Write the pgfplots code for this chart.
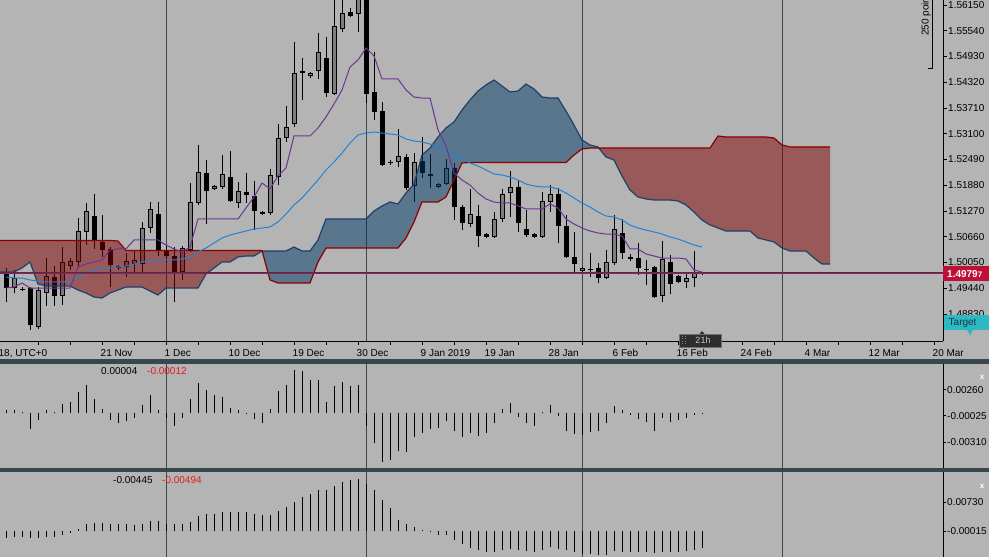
\documentclass[border=0pt]{standalone}
\usepackage{pgfplots}
\pgfplotsset{compat=1.18}
\usepackage{pgfplotstable}
\usepgfplotslibrary{fillbetween}
\usepackage{fontspec}
\setmainfont{Liberation Sans}
\definecolor{bg}{RGB}{180,180,180}
\definecolor{sepc}{RGB}{55,71,79}
\definecolor{bullc}{RGB}{125,125,125}
\definecolor{cloudR}{RGB}{128,0,0}
\definecolor{cloudB}{RGB}{0,57,101}
\definecolor{spanBc}{RGB}{139,0,0}
\definecolor{spanAc}{RGB}{30,65,105}
\definecolor{tenkanc}{RGB}{105,55,145}
\definecolor{kijunc}{RGB}{35,130,215}
\definecolor{crim}{RGB}{190,15,55}
\definecolor{tealc}{RGB}{45,185,195}
\definecolor{redtxt}{RGB}{230,25,25}
\definecolor{targettxt}{RGB}{25,55,65}
\definecolor{boxdark}{RGB}{45,45,45}
\definecolor{boxedge}{RGB}{110,110,110}
\definecolor{boxtxt}{RGB}{200,200,200}
\pagecolor{bg}

\pgfplotstableread{
i o h l c t k
0 1.49824 1.49918 1.49113 1.49444 1.49444 1.49705
1 1.49444 1.49871 1.49326 1.49681 1.49468 1.49681
2 1.49421 1.49468 1.49373 1.49397 1.49563 1.49681
3 1.49444 1.49468 1.48449 1.48567 1.49444 1.49634
4 1.48520 1.49468 1.48473 1.49397 1.49444 1.49610
5 1.49326 1.50155 1.49018 1.49729 1.49444 1.49587
6 1.49705 1.49966 1.49018 1.49255 1.49444 1.49587
7 1.49255 1.50416 1.49041 1.50061 1.49444 1.49587
8 1.49966 1.50155 1.49871 1.50084 1.49444 1.49610
9 1.50061 1.51103 1.49942 1.50795 1.49942 1.49705
10 1.50772 1.51459 1.50463 1.51269 1.50013 1.49800
11 1.51151 1.51672 1.50369 1.50582 1.50061 1.49871
12 1.50535 1.51174 1.50179 1.50345 1.50108 1.49918
13 1.50369 1.50416 1.49468 1.49989 1.50345 1.49918
14 1.49966 1.49989 1.49871 1.49918 1.50369 1.49942
15 1.49942 1.50274 1.49705 1.50084 1.50369 1.49966
16 1.50013 1.50345 1.49800 1.50108 1.50582 1.50013
17 1.50013 1.51009 1.49800 1.50866 1.50582 1.50061
18 1.50866 1.51483 1.50748 1.51317 1.50582 1.50084
19 1.51198 1.51483 1.50203 1.50345 1.50582 1.50108
20 1.50321 1.50463 1.50061 1.50203 1.50463 1.50108
21 1.50203 1.50416 1.49113 1.49800 1.50369 1.50108
22 1.49824 1.50440 1.49634 1.50392 1.50298 1.50132
23 1.50345 1.51933 1.50298 1.51483 1.50416 1.50179
24 1.51459 1.52833 1.51411 1.52194 1.51080 1.50298
25 1.52170 1.52478 1.50961 1.51743 1.51080 1.50392
26 1.51791 1.51885 1.51767 1.51862 1.51080 1.50511
27 1.51838 1.52596 1.51791 1.52146 1.51080 1.50629
28 1.52075 1.52691 1.51483 1.51506 1.51080 1.50700
29 1.51459 1.51957 1.51340 1.51743 1.51080 1.50748
30 1.51720 1.52170 1.51459 1.51648 1.51340 1.50795
31 1.51625 1.51980 1.50819 1.51269 1.51601 1.50843
32 1.51246 1.51269 1.51174 1.51198 1.51933 1.50866
33 1.51222 1.52265 1.51174 1.52122 1.51791 1.50890
34 1.52075 1.53331 1.51885 1.52999 1.52099 1.51009
35 1.52999 1.53758 1.52905 1.53260 1.52288 1.51198
36 1.53331 1.55275 1.53260 1.54540 1.53047 1.51411
37 1.54587 1.54895 1.53900 1.54540 1.53047 1.51577
38 1.54469 1.54564 1.54421 1.54540 1.53047 1.51791
39 1.54587 1.55488 1.54398 1.55038 1.53237 1.52004
40 1.54895 1.55393 1.53971 1.54066 1.53497 1.52241
41 1.54042 1.56400 1.54019 1.55654 1.53805 1.52431
42 1.55583 1.56270 1.55512 1.55962 1.54137 1.52644
43 1.55986 1.56080 1.55867 1.55891 1.54682 1.52881
44 1.55938 1.56500 1.55512 1.56341 1.54848 1.53071
45 1.56341 1.56500 1.53829 1.54042 1.55133 1.53118
46 1.54090 1.55038 1.53426 1.53616 1.54943 1.53142
47 1.53639 1.53853 1.52336 1.52359 1.54398 1.53118
48 1.52431 1.52478 1.52359 1.52407 1.54398 1.53094
49 1.52431 1.53213 1.52312 1.52573 1.54398 1.53071
50 1.52549 1.52620 1.51767 1.51814 1.54137 1.52976
51 1.51862 1.52644 1.51483 1.52431 1.53971 1.52928
52 1.52454 1.53023 1.52051 1.52170 1.53947 1.52905
53 1.52146 1.52620 1.51814 1.52099 1.53947 1.52857
54 1.51838 1.51933 1.51814 1.51909 1.53189 1.52786
55 1.51909 1.52502 1.51885 1.52288 1.52810 1.52715
56 1.52288 1.52407 1.51056 1.51364 1.52170 1.52620
57 1.51364 1.51411 1.50819 1.50985 1.52004 1.52525
58 1.50961 1.51791 1.50890 1.51198 1.51885 1.52407
59 1.51151 1.51411 1.50416 1.50677 1.51696 1.52336
60 1.50724 1.50748 1.50629 1.50653 1.51554 1.52241
61 1.50653 1.51246 1.50629 1.51080 1.51483 1.52146
62 1.51080 1.51791 1.51009 1.51672 1.51459 1.52122
63 1.51696 1.52217 1.51127 1.51838 1.51459 1.52075
64 1.51838 1.52004 1.50772 1.50985 1.51388 1.52004
65 1.50843 1.51293 1.50653 1.50700 1.51317 1.51909
66 1.50724 1.50748 1.50629 1.50653 1.51317 1.51862
67 1.50653 1.51720 1.50629 1.51506 1.51317 1.51838
68 1.51483 1.51885 1.51246 1.51672 1.51435 1.51838
69 1.51672 1.51814 1.50511 1.50914 1.51340 1.51791
70 1.50914 1.51174 1.50155 1.50179 1.51080 1.51696
71 1.50179 1.50772 1.49800 1.50013 1.50961 1.51577
72 1.49847 1.49942 1.49800 1.49918 1.50866 1.51459
73 1.49895 1.50274 1.49705 1.49871 1.50795 1.51364
74 1.49918 1.50037 1.49563 1.49681 1.50748 1.51246
75 1.49681 1.50345 1.49657 1.50061 1.50724 1.51151
76 1.50037 1.51174 1.49989 1.50843 1.50724 1.51127
77 1.50748 1.51080 1.50132 1.50274 1.50677 1.51056
78 1.50179 1.50250 1.50084 1.50132 1.50369 1.50937
79 1.50155 1.50511 1.49752 1.49918 1.50369 1.50866
80 1.49895 1.50108 1.49515 1.49871 1.50250 1.50819
81 1.49942 1.49966 1.49207 1.49231 1.50203 1.50772
82 1.49255 1.50558 1.49113 1.50132 1.50155 1.50724
83 1.50061 1.50227 1.49302 1.49539 1.50155 1.50653
84 1.49729 1.49752 1.49563 1.49587 1.50155 1.50606
85 1.49587 1.49824 1.49444 1.49681 1.50132 1.50535
86 1.49681 1.50321 1.49468 1.49800 1.49871 1.50463
87 1.49810 1.49824 1.49760 1.49797 1.49824 1.50416
}\candles

\pgfplotstableread{
i a b
-1 1.49824 1.50570
0 1.49824 1.50570
1 1.49824 1.50570
2 1.49918 1.50570
3 1.50061 1.50570
4 1.49539 1.50570
5 1.49492 1.50570
6 1.49492 1.50570
7 1.49492 1.50570
8 1.49492 1.50570
9 1.49397 1.50570
10 1.49326 1.50570
11 1.49231 1.50570
12 1.49207 1.50570
13 1.49326 1.50570
14 1.49397 1.50558
15 1.49468 1.50333
16 1.49468 1.50333
17 1.49468 1.50333
18 1.49373 1.50333
19 1.49279 1.50333
20 1.49444 1.50333
21 1.49444 1.50333
22 1.49444 1.50333
23 1.49444 1.50333
24 1.49444 1.50333
25 1.49776 1.50333
26 1.49918 1.50333
27 1.50061 1.50333
28 1.50061 1.50333
29 1.50179 1.50333
30 1.50203 1.50333
31 1.50203 1.50333
32 1.50321 1.50333
33 1.50321 1.49634
34 1.50321 1.49563
35 1.50321 1.49563
36 1.50416 1.49563
37 1.50321 1.49563
38 1.50321 1.49563
39 1.50582 1.50061
40 1.51080 1.50392
41 1.51080 1.50392
42 1.51080 1.50392
43 1.51080 1.50392
44 1.51080 1.50392
45 1.51080 1.50392
46 1.51269 1.50392
47 1.51388 1.50392
48 1.51483 1.50392
49 1.51435 1.50392
50 1.51696 1.50629
51 1.51909 1.51009
52 1.52596 1.51483
53 1.52762 1.51483
54 1.53023 1.51483
55 1.53237 1.51601
56 1.53379 1.52004
57 1.53663 1.52407
58 1.53900 1.52419
59 1.54113 1.52419
60 1.54256 1.52419
61 1.54374 1.52419
62 1.54232 1.52419
63 1.54090 1.52419
64 1.54113 1.52419
65 1.54279 1.52419
66 1.54161 1.52419
67 1.53971 1.52419
68 1.53947 1.52419
69 1.53947 1.52419
70 1.53639 1.52419
71 1.53307 1.52596
72 1.52952 1.52739
73 1.52834 1.52762
74 1.52786 1.52762
75 1.52549 1.52762
76 1.52478 1.52762
77 1.52099 1.52762
78 1.51767 1.52762
79 1.51601 1.52762
80 1.51554 1.52762
81 1.51530 1.52762
82 1.51530 1.52762
83 1.51530 1.52762
84 1.51506 1.52762
85 1.51411 1.52762
86 1.51246 1.52762
87 1.51056 1.52762
88 1.50937 1.52762
89 1.50866 1.53047
90 1.50795 1.53023
91 1.50795 1.53023
92 1.50795 1.53023
93 1.50795 1.53023
94 1.50629 1.53023
95 1.50582 1.53023
96 1.50535 1.52999
97 1.50392 1.52834
98 1.50321 1.52786
99 1.50321 1.52786
100 1.50321 1.52786
101 1.50155 1.52786
102 1.50013 1.52786
103 1.50013 1.52786
}\cloud

\pgfplotstableread{
i m s
0 0.00036 -0.00169
1 0.00036 -0.00152
2 0.00011 -0.00152
3 -0.00174 -0.00185
4 -0.00073 -0.00185
5 0.00036 -0.00152
6 0.00011 -0.00152
7 0.00102 -0.00101
8 0.00120 -0.00042
9 0.00229 0.00059
10 0.00309 0.00185
11 0.00163 0.00211
12 0.00047 0.00211
13 -0.00073 0.00185
14 -0.00109 0.00169
15 -0.00083 0.00169
16 -0.00054 0.00143
17 0.00091 0.00185
18 0.00200 0.00253
19 0.00036 0.00244
20 -0.00054 0.00185
21 -0.00134 0.00169
22 -0.00044 0.00169
23 0.00163 0.00228
24 0.00327 0.00371
25 0.00254 0.00422
26 0.00200 0.00438
27 0.00182 0.00481
28 0.00062 0.00481
29 0.00036 0.00481
30 0.00002 0.00481
31 -0.00065 0.00438
32 -0.00102 0.00396
33 0.00054 0.00413
34 0.00243 0.00506
35 0.00309 0.00607
36 0.00479 0.00733
37 0.00461 0.00860
38 0.00370 0.00944
39 0.00363 0.01045
40 0.00127 0.01028
41 0.00298 0.01130
42 0.00345 0.01239
43 0.00298 0.01281
44 0.00309 0.01324
45 -0.00134 0.01180
46 -0.00319 0.01028
47 -0.00534 0.00792
48 -0.00508 0.00590
49 -0.00407 0.00270
50 -0.00417 0.00169
51 -0.00254 0.00101
52 -0.00211 0.00034
53 -0.00174 0.00005
54 -0.00163 -0.00110
55 -0.00080 -0.00110
56 -0.00189 -0.00236
57 -0.00254 -0.00337
58 -0.00211 -0.00422
59 -0.00247 -0.00489
60 -0.00218 -0.00531
61 -0.00109 -0.00531
62 0.00044 -0.00472
63 0.00109 -0.00447
64 -0.00036 -0.00472
65 -0.00109 -0.00506
66 -0.00134 -0.00531
67 0.00018 -0.00472
68 0.00091 -0.00405
69 -0.00025 -0.00447
70 -0.00189 -0.00489
71 -0.00225 -0.00531
72 -0.00236 -0.00590
73 -0.00200 -0.00590
74 -0.00192 -0.00615
75 -0.00102 -0.00615
76 0.00083 -0.00506
77 0.00036 -0.00531
78 -0.00018 -0.00531
79 -0.00065 -0.00531
80 -0.00091 -0.00531
81 -0.00189 -0.00556
82 -0.00044 -0.00531
83 -0.00091 -0.00531
84 -0.00073 -0.00531
85 -0.00054 -0.00506
86 -0.00018 -0.00489
87 0.00004 -0.00445
}\osc

\pgfplotsset{
  panel/.style={
    scale only axis, width=943pt,
    xmin=-0.75, xmax=117.125,
    scaled y ticks=false, scaled x ticks=false,
    axis line style={black, line width=0.8pt, -},
    tick align=outside, major tick length=3pt,
    tick style={black, line width=0.8pt},
    tick label style={font=\fontsize{10}{12}\selectfont},
    yticklabel style={anchor=west, inner sep=0pt, xshift=1pt},
  },
  ebar/.style={draw=none, mark=none, forget plot, on layer=pre main,
    error bars/.cd, y dir=plus, y explicit, error mark=none},
}

\begin{document}
\begin{tikzpicture}
\path (0pt,0pt) rectangle (989pt,557pt);

% ---------------- main price panel ----------------
\begin{axis}[panel,
  at={(0pt,216pt)}, anchor=south west, height=341pt,
  ymin=1.481883, ymax=1.5627,
  axis x line*=bottom, axis y line*=right,
  major tick length=4pt,
  xtick={4,8,...,116},
  xticklabels={{},{},21 Nov,{},1 Dec,{},10 Dec,{},19 Dec,{},30 Dec,{},9 Jan 2019,{},19 Jan,{},28 Jan,{},6 Feb,{},16 Feb,{},24 Feb,{},4 Mar,{},12 Mar,{},20 Mar},
  xticklabel style={anchor=north west, inner sep=0pt, xshift=-1.5pt, yshift=-4pt},
  ytick={1.48830,1.49440,1.50050,1.50660,1.51270,1.51880,1.52490,1.53100,1.53710,1.54320,1.54930,1.55540,1.56150},
  yticklabels={1.48830,1.49440,1.50050,1.50660,1.51270,1.51880,1.52490,1.53100,1.53710,1.54320,1.54930,1.55540,1.56150},
]
% period separators
\addplot[ycomb, sepc, line width=1pt, mark=none, forget plot, on layer=pre main] coordinates {(20,1.6)(45,1.6)(72,1.6)(97,1.6)};
% wicks
\addplot[ebar, error bar style={draw=black, line width=1pt, line cap=butt}]
  table[x=i, y=l, y error expr=\thisrow{h}-\thisrow{l}] {\candles};
% bodies (outline / bear)
\addplot[ebar, error bar style={draw=black, line width=5pt, line cap=butt}]
  table[x=i, y expr={min(\thisrow{o},\thisrow{c})}, y error expr={abs(\thisrow{c}-\thisrow{o})}] {\candles};
% bull body interior
\addplot[ebar, error bar style={color=bullc, draw=bullc, line width=3pt, line cap=butt}]
  table[x=i, y expr={(\thisrow{c}>\thisrow{o}) ? (\thisrow{o}+0.00024) : nan}, y error expr={\thisrow{c}-\thisrow{o}-0.00048}] {\candles};
% cloud
\addplot[draw=none, name path=A, forget plot] table[x=i, y=a] {\cloud};
\addplot[draw=none, name path=B, forget plot] table[x=i, y=b] {\cloud};
\addplot[fill=cloudR, fill opacity=0.5, draw=none] fill between[of=A and B, soft clip={domain=-1:32.05}];
\addplot[fill=cloudB, fill opacity=0.5, draw=none] fill between[of=A and B, soft clip={domain=32.05:74.1}];
\addplot[fill=cloudR, fill opacity=0.5, draw=none] fill between[of=A and B, soft clip={domain=74.1:103}];
\addplot[spanAc, line width=1.2pt, mark=none] table[x=i, y=a] {\cloud};
\addplot[spanBc, line width=1.2pt, mark=none] table[x=i, y=b] {\cloud};
% tenkan / kijun
\addplot[kijunc, line width=1pt, mark=none] table[x=i, y=k] {\candles};
\addplot[tenkanc, line width=1pt, mark=none] table[x=i, y=t] {\candles};
% current price
\addplot[spanAc, line width=0.8pt, mark=none] coordinates {(-1,1.49818)(118,1.49818)};
\addplot[crim, line width=1.3pt, mark=none] coordinates {(-1,1.49795)(118,1.49795)};
\end{axis}

% ---------------- oscillator panel 1 ----------------
\begin{axis}[panel,
  at={(0pt,89.3pt)}, anchor=south west, height=103.7pt,
  ymin=-0.005908, ymax=0.005396,
  axis x line=none, axis y line*=right,
  ytick={-0.0031,-0.00025,0.0026},
  yticklabels={-0.00310,-0.00025,0.00260},
]
\addplot[ycomb, sepc, line width=1pt, mark=none, forget plot] coordinates {(20,0.05)(45,0.05)(72,0.05)(97,0.05)};
\addplot[ycomb, sepc, line width=1pt, mark=none, forget plot] coordinates {(20,-0.05)(45,-0.05)(72,-0.05)(97,-0.05)};
\addplot[ycomb, black, line width=1pt, mark=none] table[x=i, y=m] {\osc};
\end{axis}

% ---------------- oscillator panel 2 ----------------
\begin{axis}[panel,
  at={(0pt,0pt)}, anchor=south west, height=84.7pt,
  ymin=-0.006603, ymax=0.014826,
  axis x line=none, axis y line*=right,
  ytick={-0.00015,0.0073},
  yticklabels={-0.00015,0.00730},
]
\addplot[ycomb, sepc, line width=1pt, mark=none, forget plot] coordinates {(20,0.05)(45,0.05)(72,0.05)(97,0.05)};
\addplot[ycomb, sepc, line width=1pt, mark=none, forget plot] coordinates {(20,-0.05)(45,-0.05)(72,-0.05)(97,-0.05)};
\addplot[ycomb, black, line width=1pt, mark=none] table[x=i, y=s] {\osc};
\end{axis}

% panel separators
\fill[sepc] (0pt,193pt) rectangle (989pt,197.5pt);
\fill[sepc] (0pt,84.7pt) rectangle (989pt,89.3pt);

\begin{scope}[font=\fontsize{10}{12}\selectfont]
% first date label
\node[anchor=north east, inner sep=0pt] at (47.5pt,208pt) {18, UTC+0};
% indicator values
\node[anchor=west, inner sep=0pt] at (101pt,186pt) {0.00004};
\node[anchor=west, inner sep=0pt, text=redtxt] at (147pt,186pt) {-0.00012};
\node[anchor=west, inner sep=0pt] at (113pt,77pt) {-0.00445};
\node[anchor=west, inner sep=0pt, text=redtxt] at (162pt,77pt) {-0.00494};
% close markers
\node[text=white, font=\bfseries\fontsize{8}{9}\selectfont, inner sep=0pt] at (982pt,180pt) {x};
\node[text=white, font=\bfseries\fontsize{8}{9}\selectfont, inner sep=0pt] at (982pt,71pt) {x};
% price box
\fill[crim] (943pt,276pt) rectangle (989pt,290.5pt);
\node[anchor=west, inner sep=0pt, text=white] at (947pt,283pt) {\bfseries 1.4979{\fontsize{8}{9}\selectfont 7}};
% target box
\fill[tealc] (944pt,227pt) rectangle (989pt,241.5pt);
\fill[tealc] (967pt,227pt) -- (973pt,227pt) -- (970pt,221.5pt) -- cycle;
\node[anchor=west, inner sep=0pt, text=targettxt] at (948.5pt,234pt) {Target};
% 250 points ruler
\draw[black, line width=0.8pt] (932pt,557pt) -- (932pt,489pt) -- (928pt,489pt);
\node[rotate=90, anchor=west, inner sep=0pt] at (926pt,521pt) {250 poin};
% 21h box
\fill[boxdark] (699pt,222.5pt) -- (705pt,222.5pt) -- (702pt,226pt) -- cycle;
\filldraw[fill=boxdark, draw=boxedge, line width=0.6pt] (679pt,210pt) rectangle (721pt,223pt);
\foreach \yy in {212.5,215,217.5,220}{
  \fill[gray] (682pt,\yy pt) rectangle ++(1pt,1pt);
  \fill[gray] (684.5pt,\yy pt) rectangle ++(1pt,1pt);}
\node[text=boxtxt, inner sep=0pt, font=\fontsize{9}{10}\selectfont] at (703pt,216.5pt) {21h};
\end{scope}

\pgfresetboundingbox
\path[use as bounding box] (0pt,0pt) rectangle (989pt,557pt);
\end{tikzpicture}
\end{document}
